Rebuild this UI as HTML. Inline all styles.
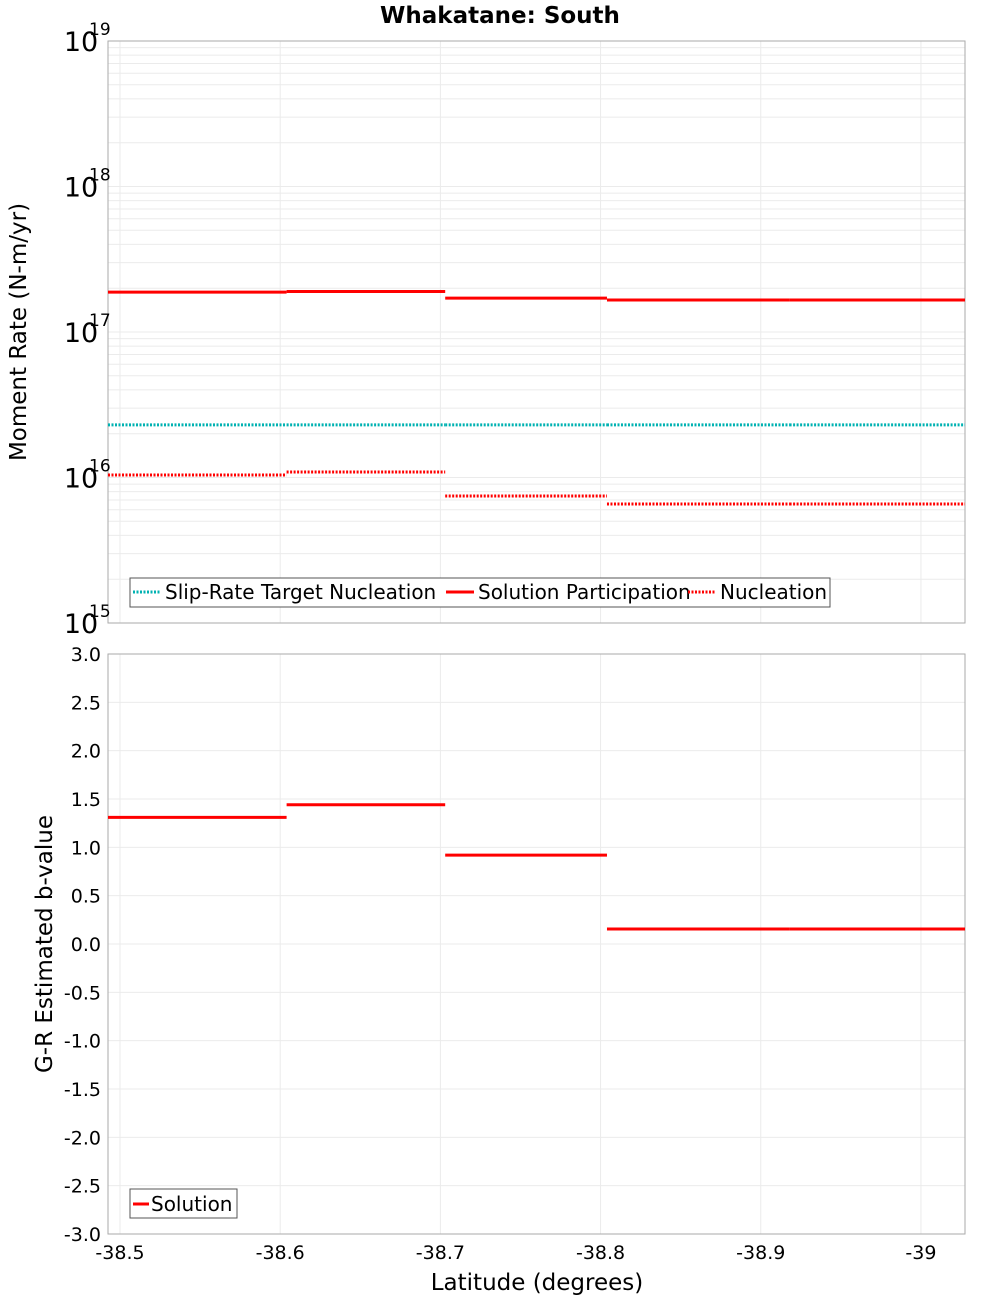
<!DOCTYPE html>
<html><head><meta charset="utf-8"><style>
body{margin:0;background:#fff;font-family:"DejaVu Sans","Liberation Sans",sans-serif}
svg text{font-family:"DejaVu Sans","Liberation Sans",sans-serif}
</style></head><body>
<svg id="chart" width="1000" height="1300" xmlns="http://www.w3.org/2000/svg">
<text x="500" y="23" text-anchor="middle" font-size="23" font-weight="bold">Whakatane: South</text>
<text transform="translate(26,332) rotate(-90)" text-anchor="middle" font-size="23">Moment Rate (N-m/yr)</text>
<text transform="translate(52,944) rotate(-90)" text-anchor="middle" font-size="23">G-R Estimated b-value</text>
<text x="537" y="1290" text-anchor="middle" font-size="23">Latitude (degrees)</text>
<g id="g"></g>
</svg>
<script>
const binEdges=[-38.4925,-38.604,-38.703,-38.804,-38.918,-39.0275];
const targetNucleation=[2.3e16,2.3e16,2.3e16,2.3e16,2.3e16];
const solutionParticipation=[1.88e17,1.9e17,1.71e17,1.66e17,1.66e17];
const nucleation=[1.04e16,1.09e16,7.46e15,6.58e15,6.58e15];
const bValues=[1.31,1.44,0.92,0.155,0.155];
const xTicks=[-38.5,-38.6,-38.7,-38.8,-38.9,-39];
const xTickLabels=["-38.5","-38.6","-38.7","-38.8","-38.9","-39"];
const logTicks=[15,16,17,18,19];
const bTicks=[-3,-2.5,-2,-1.5,-1,-0.5,0,0.5,1,1.5,2,2.5,3];

const NS="http://www.w3.org/2000/svg";
const g=document.getElementById('g');
const L=108,R=965,T1=41,B1=623,T2=654,B2=1234;
const X0=-38.4925,X1=-39.0275;
const xs=v=>L+(v-X0)/(X1-X0)*(R-L);
const ys1=v=>B1-(Math.log10(v)-15)/4*(B1-T1);
const ys2=v=>B2-(v+3)/6*(B2-T2);
function el(tag,attrs,name,parent){const e=document.createElementNS(NS,tag);for(const k in attrs)e.setAttribute(k,attrs[k]);


(parent||g).appendChild(e);return e;}
for(let d=15;d<19;d++)for(let m=1;m<10;m++){const y=ys1(m*Math.pow(10,d));el('line',{x1:L,x2:R,y1:y,y2:y,stroke:'#ebebeb','stroke-width':1},'top-grid-line');}
bTicks.forEach(v=>{const y=ys2(v);el('line',{x1:L,x2:R,y1:y,y2:y,stroke:'#ebebeb'},'bottom-grid-line');});
xTicks.forEach(v=>{const x=xs(v);el('line',{x1:x,x2:x,y1:T1,y2:B1,stroke:'#ebebeb'},'top-x-grid-line');el('line',{x1:x,x2:x,y1:T2,y2:B2,stroke:'#ebebeb'},'bottom-x-grid-line');});
el('rect',{x:L,y:T1,width:R-L,height:B1-T1,fill:'none',stroke:'#aaa'},'top-plot-frame');
el('rect',{x:L,y:T2,width:R-L,height:B2-T2,fill:'none',stroke:'#aaa'},'bottom-plot-frame');
logTicks.forEach(d=>{const y=ys1(Math.pow(10,d));
const t=el('text',{x:81,y:y+10,'text-anchor':'middle','font-size':27},'top-y-tick-label');t.textContent='10';
const s=el('text',{x:89,y:y-6,'text-anchor':'start','font-size':17},'top-y-tick-exponent');s.textContent=String(d);});
bTicks.forEach(v=>{const t=el('text',{x:101,y:ys2(v)+7,'text-anchor':'end','font-size':19},'bottom-y-tick-label');t.textContent=v.toFixed(1);});
xTicks.forEach((v,i)=>{const t=el('text',{x:xs(v),y:1259,'text-anchor':'middle','font-size':19},'x-tick-label');t.textContent=xTickLabels[i];});
function steps(arr,ys,name,color,dash){arr.forEach((v,i)=>{const a={x1:xs(binEdges[i]),x2:xs(binEdges[i+1]),y1:ys(v),y2:ys(v),stroke:color,'stroke-width':3};if(dash)a['stroke-dasharray']=dash;el('line',a,name+'-'+i);});}
steps(targetNucleation,ys1,'slip-rate-target-nucleation','#00b2b2','2,1.5');
steps(solutionParticipation,ys1,'solution-participation','#ff0000');
steps(nucleation,ys1,'nucleation','#ff0000','2,1.5');
steps(bValues,ys2,'b-value-solution','#ff0000');
el('rect',{x:130,y:578,width:700,height:29,fill:'#fff',stroke:'#555'},'top-legend-box');
const lg=[[133,'#00b2b2','2,1.5','Slip-Rate Target Nucleation'],[446,'#ff0000',null,'Solution Participation'],[688,'#ff0000','2,1.5','Nucleation']];
lg.forEach(([x,c,d,t])=>{const a={x1:x,x2:x+28,y1:592,y2:592,stroke:c,'stroke-width':3};if(d)a['stroke-dasharray']=d;el('line',a,'legend-entry-swatch');
const tx=el('text',{x:x+32,y:599,'font-size':20},'legend-entry-label');tx.textContent=t;});
el('rect',{x:130,y:1189,width:107,height:29,fill:'#fff',stroke:'#555'},'bottom-legend-box');
el('line',{x1:133,x2:149,y1:1204,y2:1204,stroke:'#ff0000','stroke-width':3},'legend-entry-swatch');
const st=el('text',{x:151,y:1211,'font-size':20},'legend-entry-label');st.textContent='Solution';
</script>
</body></html>
